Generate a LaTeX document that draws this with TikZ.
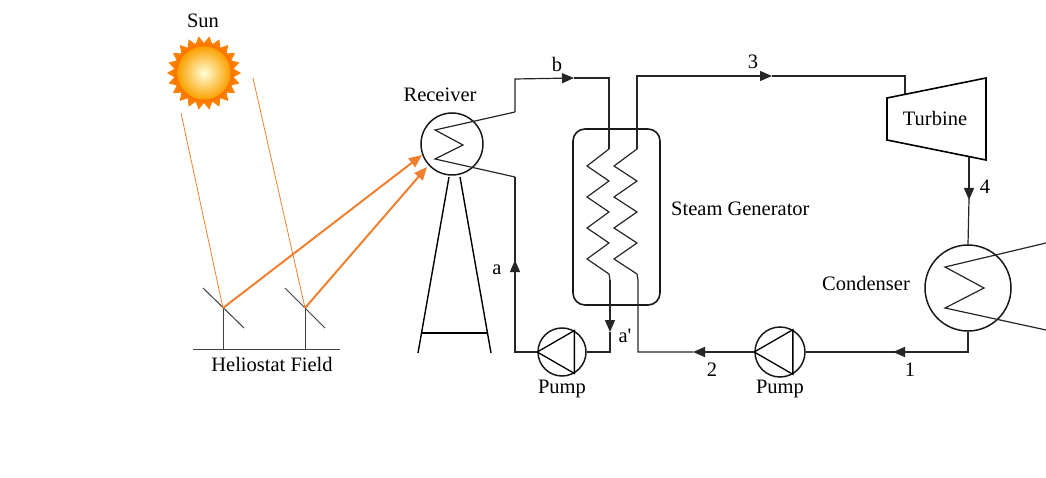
\documentclass[tikz,border=0pt]{standalone}
\usepackage{fontspec}
\setmainfont{Liberation Serif}
\usetikzlibrary{arrows.meta, positioning, shapes.geometric}

\definecolor{rayorange}{RGB}{240,128,48}
\definecolor{sunyellow}{RGB}{255,235,30}
\definecolor{sunorange}{RGB}{250,150,0}
\definecolor{suncore}{RGB}{255,255,215}

\begin{document}
\begin{tikzpicture}[x=1pt, y=-1pt,
  pipe/.style={draw=black!85, line width=1.2pt},
  flowtip/.style={pipe, -{Triangle[length=12pt, width=10pt]}},
  unit/.style={circle, draw=black!90, line width=1.5pt, inner sep=0pt},
  lbl/.style={font=\fontsize{20.5}{24}\selectfont, inner sep=1pt},
  ray/.style={rayorange, line width=0.8pt},
  beam/.style={rayorange, line width=2pt, -{Triangle[length=13pt, width=11pt]}},
  mirror/.style={draw=black!75, line width=1pt}
]
\useasboundingbox (0,0) rectangle (1046,478);

% -- Sun --
\fill[sunorange!85!red, shift={(204,73)}]
  plot[samples at={0,...,43}] ({\x*360/44}:{37-7*mod(\x,2)}) -- cycle;
\fill[sunorange!80!red] (204,73) circle (30);
\shade[inner color=suncore, outer color=sunorange!90!yellow] (204,73) circle (26.5);
\node[lbl] (sun) at (203,21) {Sun};

% -- Heliostat field --
\coordinate (h1) at (223,308);
\coordinate (h2) at (305,308);
\draw[mirror] (193,349) -- (340,349);
\draw[mirror] (h1) -- (223,349);
\draw[mirror] (h2) -- (305,349);
\draw[mirror] (203,288) -- (244,328);
\draw[mirror] (285,288) -- (325,328);
\node[lbl] (field) at (272,364) {Heliostat Field};
\draw[ray] (181,113) -- (h1);
\draw[ray] (253,78) -- (h2);

% -- Receiver on tower --
\node[unit, minimum size=62pt] (rec) at (452,144) {};
\node[lbl] (reclbl) at (440,95) {Receiver};
\draw[line width=1.4pt] (449,177) -- (418,353);
\draw[line width=1.4pt] (460,177) -- (491,353);
\draw[line width=1.4pt] (421.5,333) -- (487.5,333);
\draw[beam] (h1) -- (422,155);
\draw[beam] (h2) -- (427,167);

% -- Steam generator --
\node[rectangle, rounded corners=12pt, draw=black!90, line width=1.6pt,
  minimum width=87pt, minimum height=176pt] (sg) at (616.5,217) {};
\node[lbl, anchor=west] (sglbl) at (670,209) {Steam Generator};

% -- Pumps --
\node[unit, minimum size=48pt] (p1) at (562,352) {};
\node[unit, minimum size=50pt] (p2) at (780,352) {};
\foreach \p in {p1,p2} {
  \draw[line width=1.3pt] (\p.west) -- (\p.60) -- (\p.-60) -- cycle;
}
\node[lbl, below=2pt of p1] (p1lbl) {Pump};
\node[lbl, below=1pt of p2] (p2lbl) {Pump};

% -- Turbine --
\coordinate (t1) at (887,98);
\coordinate (t2) at (986,78);
\coordinate (t3) at (986,160);
\coordinate (t4) at (887,140);
\draw[line width=1.6pt] (t1) -- (t2) -- (t3) -- (t4) -- cycle;
\node[lbl] (turb) at (935,118) {Turbine};

% -- Condenser --
\node[unit, minimum size=86pt] (cond) at (968,288) {};
\node[lbl] (condlbl) at (866,283) {Condenser};
\draw[pipe] (1046,243) -- ([shift={(-23,-21)}]cond.center) -- ([shift={(16,0)}]cond.center)
  -- ([shift={(-23,20)}]cond.center) -- (1046,330);

% -- Receiver loop --
\draw[pipe] (515,112) -- ([shift={(-17,-14)}]rec.center) -- ([shift={(11,1)}]rec.center)
  -- ([shift={(-17,15)}]rec.center) -- (515,177);
\draw[flowtip] (515,112) -- (515,79) -- (574,78);
\draw[pipe] (574,78) -- (609,78) -- (609,149);
\draw[pipe] (609,149) \foreach \k in {0,...,3} {
    -- (587,{166+31*\k}) -- (609,{181+31*\k})
  } -- (610,280);
\draw[flowtip] (610,280) -- (610,332);
\draw[pipe] (610,332) -- (610,352) -- (p1.east);
\draw[pipe] (p1.west) -- (515,352) -- (515,262);
\draw[flowtip] (515,272) -- (515,260);
\draw[pipe] (515,262) -- (515,177);
\node[lbl] (alb) at (497,270) {a};
\node[lbl] (aplb) at (625,336) {a\textquotesingle};
\node[lbl] (blb) at (557,64) {b};

% -- Water/steam loop --
\draw[pipe] (637,149) \foreach \k in {0,...,3} {
    -- (614,{166+31*\k}) -- (637,{181+31*\k})
  } -- (638,280) -- (638,352) -- (693,352);
\draw[flowtip] (p2.west) -- (693,352);
\draw[flowtip] (637,149) -- (637,76) -- (772,76);
\draw[pipe] (772,76) -- (905,76) -- (905,94.4);
\draw[flowtip] (969,156.6) -- (969,200);
\draw[pipe] (969,199) -- (cond.north);
\draw[pipe] (cond.south) -- (968,352) -- (893,352);
\draw[flowtip] (968,352) -- (893,352);
\draw[pipe] (893,352) -- (p2.east);
\node[lbl] (n3) at (753,62) {3};
\node[lbl] (n4) at (985,187) {4};
\node[lbl] (n2) at (712,370) {2};
\node[lbl] (n1) at (910,370) {1};

\end{tikzpicture}
\end{document}
